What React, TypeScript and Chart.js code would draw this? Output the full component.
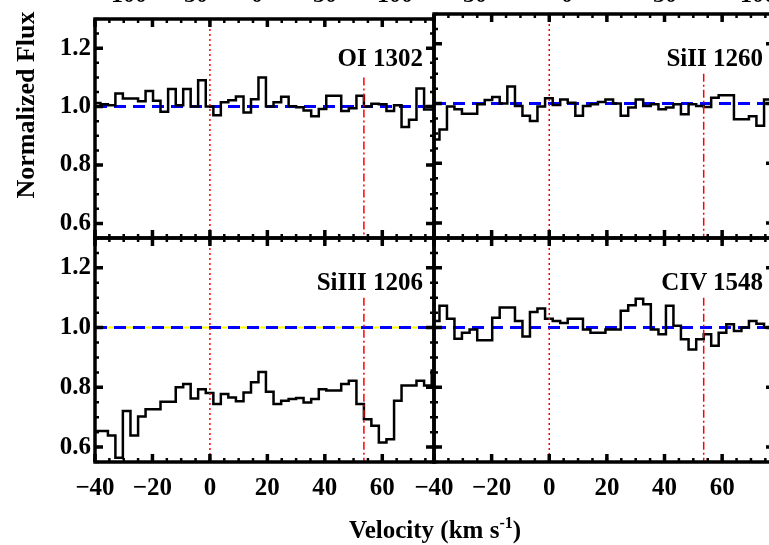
import React, { useEffect, useRef } from "react";
import { Chart, registerables } from "chart.js";

Chart.register(...registerables);

// Velocity bin centres (km/s), shared by all four panels
const velocity = [
  -42.1, -39.4, -36.8, -34.2, -31.6, -29.0, -26.3, -23.7, -21.1, -18.5, -15.9, -13.2,
  -10.6, -8.0, -5.4, -2.8, -0.1, 2.5, 5.1, 7.7, 10.4, 13.0, 15.6, 18.2,
  20.8, 23.5, 26.1, 28.7, 31.3, 33.9, 36.6, 39.2, 41.8, 44.4, 47.0, 49.7,
  52.3, 54.9, 57.5, 60.1, 62.8, 65.4, 68.0, 70.6, 73.2, 75.9, 78.5, 81.1,
];

const fluxOI1302 = [
  1.012, 1.012, 1.008, 1.005, 1.045, 1.028, 1.028, 1.018, 1.053, 1.02, 0.982, 1.06,
  1.005, 1.06, 1.0, 1.09, 1.0, 0.97, 1.015, 1.022, 1.035, 0.98, 1.025, 1.1,
  1.0, 1.015, 1.034, 1.001, 0.998, 0.987, 0.967, 0.992, 1.037, 1.037, 0.985, 0.994,
  1.037, 1.0, 1.01, 1.008, 0.985, 1.005, 0.93, 0.955, 1.062, 0.99, 0.99, 0.99,
];

const fluxSiII1260 = [
  0.88, 0.88, 0.913, 0.99, 0.981, 0.966, 0.966, 0.998, 1.012, 1.022, 1.0, 1.057,
  0.992, 0.959, 0.942, 0.99, 1.018, 0.995, 1.014, 1.003, 0.959, 0.992, 0.998, 1.005,
  1.014, 1.0, 0.959, 0.987, 1.014, 0.992, 0.998, 0.981, 0.987, 0.998, 0.964, 0.998,
  0.992, 0.989, 1.02, 1.028, 1.028, 0.948, 0.948, 0.958, 0.926, 1.014, 1.014, 1.014,
];

const fluxSiIII1206 = [
  0.654, 0.654, 0.654, 0.639, 0.564, 0.721, 0.639, 0.702, 0.727, 0.727, 0.752, 0.752,
  0.8, 0.811, 0.763, 0.794, 0.781, 0.744, 0.778, 0.766, 0.753, 0.783, 0.817, 0.851,
  0.785, 0.744, 0.755, 0.761, 0.764, 0.749, 0.761, 0.794, 0.789, 0.789, 0.811, 0.822,
  0.744, 0.693, 0.671, 0.615, 0.626, 0.755, 0.806, 0.806, 0.822, 0.806, 0.856, 0.856,
];

const fluxCIV1548 = [
  1.022, 1.022, 1.073, 1.03, 0.963, 0.983, 0.994, 0.958, 0.958, 1.033, 1.067, 1.067,
  1.022, 0.97, 1.052, 1.064, 1.03, 1.022, 1.015, 1.03, 1.03, 0.994, 0.983, 0.983,
  0.994, 0.994, 1.056, 1.075, 1.097, 1.078, 0.994, 0.978, 1.073, 1.006, 0.961, 0.927,
  0.961, 0.978, 0.939, 0.983, 1.011, 0.989, 1.0, 1.022, 1.013, 1.0, 1.0, 1.0,
];

const xTickValues = [-40, -20, 0, 20, 40, 60];
const xTickLabels = ["\u221240", "\u221220", "0", "20", "40", "60"];
const yTickValues = [0.6, 0.8, 1.0, 1.2];
const yTickLabels = ["0.6", "0.8", "1.0", "1.2"];

const xMin = -40;
const xMax = 78;
const yMin = 0.55;
const yMax = 1.3;
const continuumLevel = 1.0;
const systemicVelocity = 0;
const componentVelocity = 53.6;
const componentLineTop = 1.1;

// Tick labels of the (cropped) row of panels above
const aboveLabelsLeft = ["\u2212100", "\u221250", "0", "50", "100"];
const aboveLabelsRight = ["\u221250", "0", "50", "100"];

const CANVAS_W = 800;
const CANVAS_H = 545;
const FONT = '"Liberation Serif", "Times New Roman", serif';

type PanelSpec = {
  name: string;
  flux: number[];
  left: number;
  right: number;
  top: number;
  bottom: number;
  showY: boolean;
  showX: boolean;
  yellow: boolean;
};

const panels: PanelSpec[] = [
  { name: "OI 1302", flux: fluxOI1302, left: 95, right: 434, top: 14, bottom: 238, showY: true, showX: false, yellow: false },
  { name: "SiII 1260", flux: fluxSiII1260, left: 434, right: 774, top: 14, bottom: 238, showY: false, showX: false, yellow: false },
  { name: "SiIII 1206", flux: fluxSiIII1206, left: 95, right: 434, top: 238, bottom: 462, showY: true, showX: true, yellow: true },
  { name: "CIV 1548", flux: fluxCIV1548, left: 434, right: 774, top: 238, bottom: 462, showY: false, showX: true, yellow: false },
];

const framePlugin = {
  id: "idlFrame",
  afterDatasetsDraw(chart: any) {
    const { ctx, chartArea: a, scales } = chart;
    const xs = scales.x;
    const ys = scales.y;
    ctx.save();
    ctx.strokeStyle = "#000";
    ctx.lineCap = "butt";
    const xTick = (v: number, len: number, w: number) => {
      const px = xs.getPixelForValue(v);
      ctx.lineWidth = w;
      ctx.beginPath();
      ctx.moveTo(px, a.bottom);
      ctx.lineTo(px, a.bottom - len);
      ctx.moveTo(px, a.top);
      ctx.lineTo(px, a.top + len);
      ctx.stroke();
    };
    const yTick = (v: number, len: number, w: number) => {
      const py = ys.getPixelForValue(v);
      ctx.lineWidth = w;
      ctx.beginPath();
      ctx.moveTo(a.left, py);
      ctx.lineTo(a.left + len, py);
      ctx.moveTo(a.right, py);
      ctx.lineTo(a.right - len, py);
      ctx.stroke();
    };
    for (let v = xMin; v <= xMax; v += 5) xTick(v, 4, 2.5);
    xTickValues.forEach((v) => xTick(v, 8, 3.5));
    for (let k = 0; k <= 15; k++) yTick(yMin + k * 0.05, 4, 2.5);
    yTickValues.forEach((v) => yTick(v, 8, 3.5));
    ctx.lineWidth = 3.5;
    ctx.strokeRect(a.left, a.top, a.right - a.left, a.bottom - a.top);
    ctx.restore();
  },
};

function Panel({ spec }: { spec: PanelSpec }) {
  const ref = useRef<HTMLCanvasElement>(null);
  useEffect(() => {
    const yAxisW = 70;
    const xAxisH = 60;
    const padding = {
      left: spec.showY ? spec.left - yAxisW : spec.left,
      right: CANVAS_W - spec.right,
      top: spec.top,
      bottom: spec.showX ? CANVAS_H - spec.bottom - xAxisH : CANVAS_H - spec.bottom,
    };
    const spectrum = velocity.map((v, i) => ({ x: v, y: spec.flux[i] }));
    const datasets: any[] = [
      {
        data: [{ x: systemicVelocity, y: yMax }, { x: systemicVelocity, y: yMin }],
        borderColor: "#ff0000",
        borderWidth: 1.5,
        borderDash: [2, 3],
        pointRadius: 0,
      },
      {
        data: [{ x: componentVelocity, y: componentLineTop }, { x: componentVelocity, y: yMin }],
        borderColor: "#ff0000",
        borderWidth: 1.5,
        borderDash: [8, 3, 2, 3],
        pointRadius: 0,
      },
      {
        data: spectrum,
        borderColor: "#000000",
        borderWidth: 2.5,
        stepped: "middle",
        pointRadius: 0,
        clip: 0,
      },
      {
        data: [{ x: xMin, y: continuumLevel }, { x: xMax, y: continuumLevel }],
        borderColor: "#0000ff",
        borderWidth: 3,
        borderDash: [12, 7],
        pointRadius: 0,
      },
    ];
    if (spec.yellow) {
      datasets.push({
        data: [{ x: xMin, y: continuumLevel }, { x: xMax, y: continuumLevel }],
        borderColor: "#ffff00",
        borderWidth: 2,
        pointRadius: 0,
      });
    }
    const tickFont = { family: FONT, size: 25, weight: "bold" as const };
    const chart = new Chart(ref.current as HTMLCanvasElement, {
      type: "line",
      data: { datasets },
      options: {
        animation: false,
        responsive: false,
        events: [],
        layout: { padding },
        plugins: { legend: { display: false }, tooltip: { enabled: false } },
        scales: {
          x: {
            type: "linear",
            min: xMin,
            max: xMax,
            display: spec.showX,
            grid: { display: false, drawTicks: false },
            border: { display: false },
            afterBuildTicks: (s: any) => {
              s.ticks = xTickValues.map((v) => ({ value: v }));
            },
            afterFit: (s: any) => {
              if (spec.showX) s.height = xAxisH;
            },
            ticks: {
              padding: 12,
              color: "#000",
              font: tickFont,
              maxRotation: 0,
              autoSkip: false,
              callback: (v: any) => xTickLabels[xTickValues.indexOf(Number(v))],
            },
          },
          y: {
            type: "linear",
            min: yMin,
            max: yMax,
            display: spec.showY,
            grid: { display: false, drawTicks: false },
            border: { display: false },
            afterBuildTicks: (s: any) => {
              s.ticks = yTickValues.map((v) => ({ value: v }));
            },
            afterFit: (s: any) => {
              if (spec.showY) s.width = yAxisW;
            },
            ticks: {
              padding: 4,
              color: "#000",
              font: tickFont,
              autoSkip: false,
              callback: (v: any) => yTickLabels[yTickValues.indexOf(Number(v))],
            },
          },
        },
      } as any,
      plugins: [framePlugin],
    });
    return () => chart.destroy();
  }, [spec]);
  return (
    <canvas
      ref={ref}
      width={CANVAS_W}
      height={CANVAS_H}
      style={{ position: "absolute", left: 0, top: 0, width: CANVAS_W, height: CANVAS_H }}
    />
  );
}

export default function App() {
  const aboveLeftRight = [147, 208, 263, 337, 413];
  const aboveRightRight = [487, 573, 677, 776];
  return (
    <div
      style={{
        position: "fixed",
        left: 0,
        top: 0,
        width: 769,
        height: 545,
        overflow: "hidden",
        background: "#ffffff",
        fontFamily: FONT,
        fontWeight: "bold",
        color: "#000",
      }}
    >
      {panels.map((p) => (
        <Panel key={p.name} spec={p} />
      ))}
      {panels.map((p) => (
        <div
          key={"lab" + p.name}
          style={{
            position: "absolute",
            right: 769 - (p.right - 11),
            top: p.top + 52 - 21,
            fontSize: 25,
            lineHeight: "25px",
            whiteSpace: "nowrap",
          }}
        >
          {p.name}
        </div>
      ))}
      {aboveLabelsLeft.map((t, i) => (
        <div
          key={"al" + i}
          style={{ position: "absolute", right: 769 - aboveLeftRight[i], top: -18, fontSize: 24, lineHeight: "24px", whiteSpace: "nowrap" }}
        >
          {t}
        </div>
      ))}
      {aboveLabelsRight.map((t, i) => (
        <div
          key={"ar" + i}
          style={{ position: "absolute", right: 769 - aboveRightRight[i], top: -18, fontSize: 24, lineHeight: "24px", whiteSpace: "nowrap" }}
        >
          {t}
        </div>
      ))}
      <div
        style={{
          position: "absolute",
          left: 26 - 130,
          top: 105 - 13,
          width: 260,
          height: 26,
          fontSize: 26,
          lineHeight: "26px",
          textAlign: "center",
          transform: "rotate(-90deg)",
          whiteSpace: "nowrap",
        }}
      >
        Normalized Flux
      </div>
      <div
        style={{
          position: "absolute",
          left: 235,
          top: 517,
          width: 400,
          fontSize: 25,
          lineHeight: "25px",
          textAlign: "center",
          whiteSpace: "nowrap",
        }}
      >
        Velocity (km s
        <span style={{ fontSize: 16, position: "relative", top: -10 }}>-1</span>)
      </div>
    </div>
  );
}
